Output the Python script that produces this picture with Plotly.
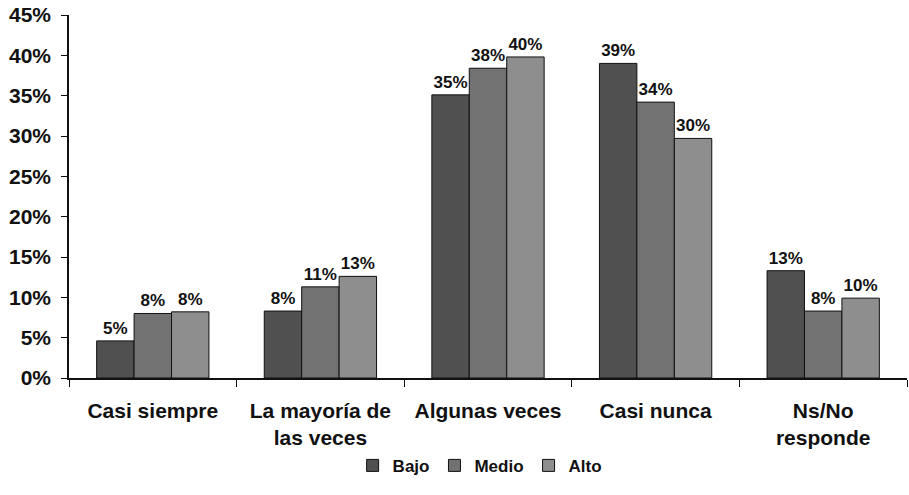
import plotly.graph_objects as go

categories = ["Casi siempre", "La mayoría de<br>las veces", "Algunas veces", "Casi nunca", "Ns/No<br>responde"]
series_names = ["Bajo", "Medio", "Alto"]
bajo = [4.6, 8.3, 35.1, 39.0, 13.3]
medio = [8.0, 11.3, 38.4, 34.2, 8.3]
alto = [8.2, 12.6, 39.8, 29.7, 9.9]
y_ticks = [0, 5, 10, 15, 20, 25, 30, 35, 40, 45]
y_tick_labels = [f"{t}%" for t in y_ticks]

colors = ["#505050", "#727272", "#8e8e8e"]
font_family = "Liberation Sans, Arial, sans-serif"

fig = go.Figure()
for name, vals, col in zip(series_names, [bajo, medio, alto], colors):
    fig.add_trace(go.Bar(
        x=categories, y=vals, name=name,
        marker=dict(color=col, line=dict(color="#111111", width=1)),
        text=[f"{round(v)}%" for v in vals],
        textposition="outside",
        cliponaxis=False,
        textfont=dict(family=font_family, size=17, color="#111111", weight="bold"),
    ))

fig.update_layout(
    width=909, height=495,
    barmode="group", bargap=0.33, bargroupgap=0.0,
    plot_bgcolor="white", paper_bgcolor="white",
    margin=dict(l=69, r=2, t=15, b=117),
    font=dict(family=font_family, color="#111111", weight="bold"),
    legend=dict(orientation="h", x=0.49, xanchor="center", y=-0.242, yanchor="middle",
                font=dict(size=17, weight="bold"), tracegroupgap=0,
                itemwidth=30),
    showlegend=True,
)
fig.update_yaxes(
    range=[0, 45], tickvals=y_ticks, ticktext=y_tick_labels,
    showgrid=False, showline=True, linecolor="#111111", linewidth=1.5,
    ticks="outside", ticklen=6, tickcolor="#111111",
    tickfont=dict(size=21, weight="bold"), zeroline=False,
    automargin=False, ticklabelstandoff=6,
)
fig.update_xaxes(
    showgrid=False, showline=True, linecolor="#111111", linewidth=1.5,
    ticks="outside", ticklen=7, tickcolor="#111111", tickson="boundaries",
    tickfont=dict(size=21, weight="bold"), automargin=False,
    ticklabelstandoff=13,
)

fig.write_html("out.html", config={"displayModeBar": False},
               post_script="document.body.style.margin='0px';")
